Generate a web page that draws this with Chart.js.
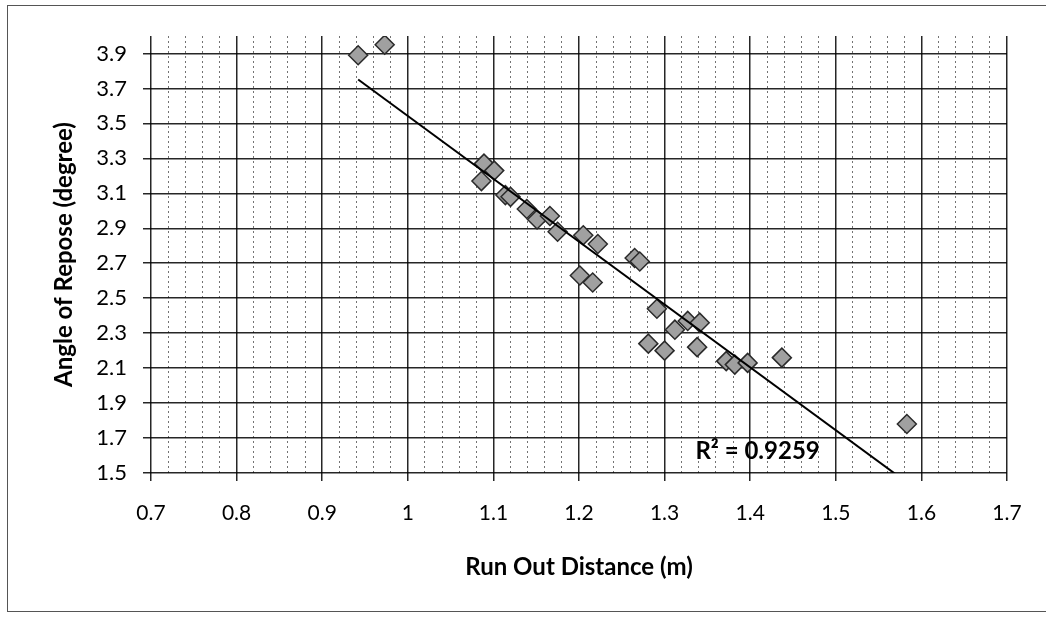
<!DOCTYPE html>
<html>
<head>
    <meta charset="UTF-8">
    <title>Angle of Repose vs Run Out Distance</title>
    <script src="https://cdn.jsdelivr.net/npm/chart.js"></script>
    <style>
        html, body { margin: 0; padding: 0; background: #fff; }
        #wrap { position: relative; width: 1046px; height: 617px; }
    </style>
</head>
<body>
<div id="wrap"><canvas id="reposeChart"></canvas></div>
<script>
    // measured samples
    var runOut = [0.942, 0.973, 1.089, 1.101, 1.086, 1.114, 1.120, 1.139, 1.151, 1.166,
                  1.175, 1.205, 1.222, 1.265, 1.271, 1.201, 1.216, 1.291, 1.327, 1.341,
                  1.312, 1.281, 1.300, 1.338, 1.372, 1.382, 1.397, 1.437, 1.583];
    var angle  = [3.89, 3.95, 3.27, 3.23, 3.17, 3.09, 3.08, 3.01, 2.95, 2.97,
                  2.88, 2.86, 2.81, 2.73, 2.71, 2.63, 2.59, 2.44, 2.37, 2.36,
                  2.32, 2.24, 2.20, 2.22, 2.14, 2.12, 2.13, 2.16, 1.78];

    var xTickLabels = [0.7, 0.8, 0.9, 1, 1.1, 1.2, 1.3, 1.4, 1.5, 1.6, 1.7];
    var yTickLabels = [1.5, 1.7, 1.9, 2.1, 2.3, 2.5, 2.7, 2.9, 3.1, 3.3, 3.5, 3.7, 3.9];
    var rSquaredText = 'R² = 0.9259';

    var FONT = 'Lato, "Open Sans", sans-serif';

    // least squares line through the samples
    function linearFit(xs, ys) {
        var n = xs.length, sx = 0, sy = 0, sxx = 0, sxy = 0;
        for (var i = 0; i < n; i++) {
            sx += xs[i]; sy += ys[i];
            sxx += xs[i] * xs[i]; sxy += xs[i] * ys[i];
        }
        var m = (n * sxy - sx * sy) / (n * sxx - sx * sx);
        return { m: m, b: (sy - m * sx) / n };
    }
    var fit = linearFit(runOut, angle);
    var xMin = Math.min.apply(null, runOut), xMax = Math.max.apply(null, runOut);

    var points = runOut.map(function (x, i) { return { x: x, y: angle[i] }; });
    var trend = [
        { x: xMin, y: fit.m * xMin + fit.b },
        { x: xMax, y: fit.m * xMax + fit.b }
    ];

    // minor vertical grid every 0.02 between the labelled ticks
    var xGridTicks = [];
    for (var k = 0; k <= 50; k++) {
        xGridTicks.push(Math.round((0.7 + k * 0.02) * 1000) / 1000);
    }

    function isMajorX(v) {
        return Math.abs(v * 10 - Math.round(v * 10)) < 1e-6;
    }

    var frame = {
        id: 'frame',
        beforeDraw: function (chart) {
            var c = chart.ctx;
            c.save();
            c.fillStyle = '#fff';
            c.fillRect(0, 0, chart.width, chart.height);
            c.strokeStyle = '#555';
            c.lineWidth = 1;
            c.strokeRect(7.5, 5.5, chart.width + 10, 606);
            c.restore();
        }
    };

    var rLabel = {
        id: 'rLabel',
        afterDatasetsDraw: function (chart) {
            var c = chart.ctx;
            var x = chart.scales.x.getPixelForValue(1.336);
            var y = chart.scales.y.getPixelForValue(1.626);
            c.save();
            c.font = 'bold 24px ' + FONT;
            c.fillStyle = '#000';
            c.textAlign = 'left';
            c.textBaseline = 'middle';
            c.fillText(rSquaredText, x, y);
            c.restore();
        }
    };

    var ctx = document.getElementById('reposeChart').getContext('2d');
    var reposeChart = new Chart(ctx, {
        type: 'scatter',
        data: {
            datasets: [{
                label: 'Angle of Repose',
                data: points,
                pointStyle: 'rectRot',
                pointRadius: 9.5,
                backgroundColor: '#a0a0a0',
                borderColor: '#2a2a2a',
                borderWidth: 1.5,
                order: 2
            }, {
                label: 'Linear trend',
                type: 'line',
                data: trend,
                borderColor: '#000',
                borderWidth: 2,
                pointRadius: 0,
                fill: false,
                order: 1
            }]
        },
        options: {
            responsive: true,
            maintainAspectRatio: false,
            animation: false,
            layout: { padding: { left: 0, top: 36, right: 39, bottom: 0 } },
            plugins: {
                legend: { display: false },
                tooltip: { enabled: false }
            },
            scales: {
                x: {
                    type: 'linear',
                    min: 0.7,
                    max: 1.7,
                    afterBuildTicks: function (scale) {
                        scale.ticks = xGridTicks.map(function (v) { return { value: v }; });
                    },
                    afterFit: function (scale) { scale.height = 144; },
                    ticks: {
                        autoSkip: false,
                        maxRotation: 0,
                        padding: 20,
                        color: '#000',
                        font: { family: FONT, size: 21 },
                        callback: function (v) {
                            if (!isMajorX(v)) return '';
                            var hit = xTickLabels.filter(function (t) { return Math.abs(t - v) < 1e-6; });
                            return hit.length ? String(hit[0]) : '';
                        }
                    },
                    grid: {
                        tickLength: 8,
                        color: function (c) {
                            return c.tick && isMajorX(c.tick.value) ? 'rgba(0,0,0,0.85)' : 'rgba(0,0,0,0.55)';
                        },
                        lineWidth: function (c) {
                            return c.tick && isMajorX(c.tick.value) ? 1.5 : 1;
                        },
                        tickColor: function (c) {
                            return c.tick && isMajorX(c.tick.value) ? 'rgba(0,0,0,0.85)' : 'rgba(0,0,0,0)';
                        }
                    },
                    border: {
                        display: false,
                        dash: function (c) {
                            return c.tick && !isMajorX(c.tick.value) ? [2, 3] : [];
                        }
                    },
                    title: {
                        display: true,
                        text: 'Run Out Distance (m)',
                        color: '#000',
                        font: { family: FONT, size: 24, weight: 'bold' },
                        padding: { top: 0, bottom: 35 }
                    }
                },
                y: {
                    type: 'linear',
                    min: 1.5,
                    max: 4.0,
                    afterBuildTicks: function (scale) {
                        scale.ticks = yTickLabels.map(function (v) { return { value: v }; });
                    },
                    afterFit: function (scale) { scale.width = 151; },
                    ticks: {
                        padding: 16,
                        color: '#000',
                        font: { family: FONT, size: 22 },
                        callback: function (v) { return String(v); }
                    },
                    grid: {
                        tickLength: 8,
                        color: 'rgba(0,0,0,0.85)',
                        lineWidth: 1.5,
                        tickColor: 'rgba(0,0,0,0.85)'
                    },
                    border: { display: false },
                    title: {
                        display: true,
                        text: 'Angle of Repose (degree)',
                        color: '#000',
                        font: { family: FONT, size: 24, weight: 'bold' },
                        padding: { top: 50, bottom: 0 }
                    }
                }
            }
        },
        plugins: [frame, rLabel]
    });
</script>
</body>
</html>
